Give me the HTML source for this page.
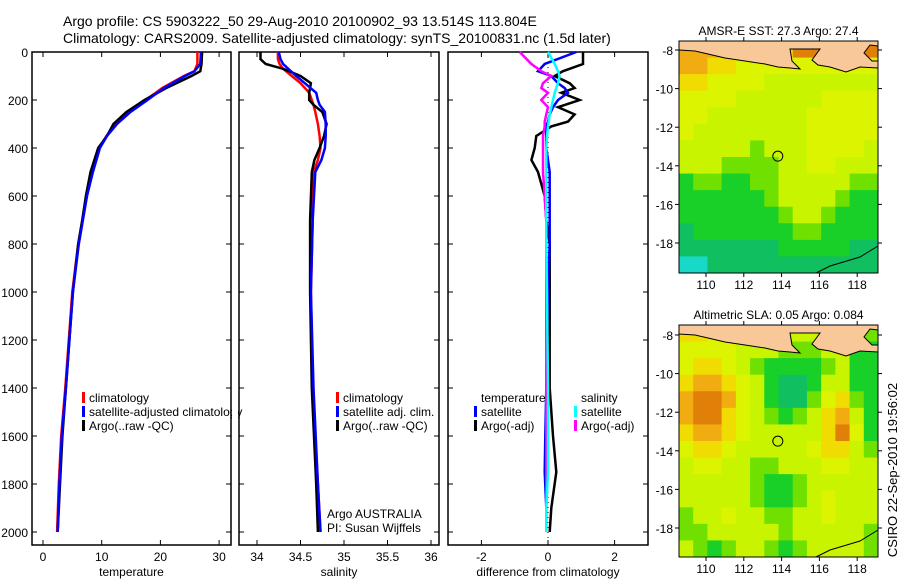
<!DOCTYPE html>
<html><head><meta charset="utf-8"><style>
body{margin:0;background:#fff;}
svg{display:block;font-family:"Liberation Sans",sans-serif;}
</style></head><body>
<svg id="c" width="900" height="580" viewBox="0 0 900 580">
<text x="63" y="26" font-size="14">Argo profile: CS 5903222_50 29-Aug-2010 20100902_93 13.514S 113.804E</text>
<text x="63" y="43" font-size="14">Climatology: CARS2009. Satellite-adjusted climatology: synTS_20100831.nc (1.5d later)</text>
<g id="g"></g>
<text transform="translate(897,470) rotate(-90)" text-anchor="middle" font-size="13">CSIRO 22-Sep-2010 19:56:02</text>
</svg>
<script>
// ---- data ----
const tDepth=[0,50,80,100,150,200,250,300,350,400,500,600,700,800,1000,1200,1400,1600,1800,2000];
const tClim=[26.3,26.3,25.8,24.0,20.3,17.5,14.6,12.4,10.8,9.6,8.4,7.4,6.7,6.0,5.0,4.4,3.8,3.1,2.7,2.4];
const tSat=[26.9,26.8,25.8,24.2,20.6,17.8,14.9,12.6,10.9,9.7,8.5,7.5,6.8,6.1,5.1,4.5,3.9,3.2,2.8,2.5];
const tArgo=[27.1,27.0,26.8,25.3,21.0,17.3,14.2,12.0,10.9,9.4,8.1,7.3,6.7,6.0,5.1,4.5,3.9,3.3,2.9,2.5];
const sDepth=[0,30,50,70,100,130,170,200,220,250,300,350,400,450,500,700,1000,1400,1800,2000];
const sClim=[34.24,34.24,34.26,34.3,34.4,34.5,34.6,34.63,34.65,34.67,34.7,34.72,34.73,34.7,34.65,34.64,34.62,34.64,34.7,34.73];
const sSat=[34.25,34.27,34.3,34.36,34.45,34.55,34.68,34.7,34.72,34.78,34.79,34.79,34.78,34.74,34.67,34.64,34.62,34.65,34.7,34.73];
const sArgo=[34.04,34.04,34.1,34.3,34.5,34.62,34.6,34.6,34.65,34.75,34.8,34.77,34.72,34.66,34.63,34.61,34.61,34.63,34.68,34.7];
const dDepth=[0,50,80,100,130,150,170,200,230,260,290,310,350,400,450,500,600,700,800,1000,1400,1600,1750,1900,2000];
const dTempArgo=[1.05,1.05,0.45,0.2,0.65,0.8,0.4,0.95,0.3,0.8,0.6,0.1,-0.35,-0.4,-0.5,-0.3,-0.1,-0.05,0.05,0.05,0.05,0.15,0.25,0.1,0.05];
const dTempSat=[0.85,-0.1,-0.3,0.1,0.3,0.5,0.6,0.3,0.15,0.05,0,-0.05,-0.05,-0.05,0,0.05,0.05,0.05,0.05,0,-0.05,-0.08,-0.1,-0.05,-0.05];
const dSalSat=[0,0.2,0.3,0.35,0.3,0.25,0.2,0.15,0.1,0.05,0.02,0,-0.03,-0.05,-0.05,-0.05,-0.05,-0.05,-0.05,-0.03,0,0,0,-0.05,-0.05];
const dSalArgo=[-0.85,-0.5,-0.2,0.1,-0.15,-0.2,0,-0.2,0,-0.05,-0.1,-0.1,-0.15,-0.15,-0.15,-0.15,-0.1,-0.05,-0.05,-0.05,-0.05,-0.05,-0.05,-0.05,-0.05];
const depthTicks=[0,200,400,600,800,1000,1200,1400,1600,1800,2000];
const tTicks=[0,10,20,30];
const sTicks=[34,34.5,35,35.5,36];
const dTicks=[-2,0,2];
const lonTicks=[110,112,114,116,118];
const latTicks=[-8,-10,-12,-14,-16,-18];
const sstGrid=[
[7,7,7,6,6,6,6,6,8,8,9,8,8,8],
[7,7,6,6,5,5,5,5,5,5,5,5,5,5],
[6,6,5,5,5,5,4,4,4,4,4,4,4,4],
[5,5,5,5,4,4,4,4,4,4,5,5,5,5],
[5,5,4,4,4,4,4,4,4,5,5,5,5,5],
[5,4,4,4,4,4,4,4,4,5,5,5,5,5],
[4,4,4,4,4,3,4,4,4,5,5,5,5,4],
[4,4,4,3,3,3,3,4,4,5,5,4,4,4],
[2,3,3,2,2,3,3,4,4,4,4,4,3,3],
[2,2,2,2,2,2,3,4,4,4,4,3,2,2],
[2,2,2,2,2,2,2,3,4,4,3,2,2,2],
[1,2,2,2,2,2,2,2,3,3,2,2,2,2],
[1,1,1,1,1,1,1,2,2,2,2,2,1,1],
[0,0,1,1,1,1,1,1,1,1,1,1,1,1]];
const slaGrid=[
[6,6,5,5,4,4,4,4,4,4,4,4,3,3],
[5,5,5,5,4,4,4,3,3,3,4,4,2,2],
[5,6,6,5,4,3,2,2,2,2,3,4,2,2],
[6,7,7,6,5,4,2,1,1,2,4,4,2,2],
[7,8,8,7,5,4,2,1,1,3,5,6,3,2],
[7,8,8,6,5,4,3,2,3,4,6,7,4,2],
[6,7,7,6,5,4,4,4,4,4,6,8,5,2],
[5,6,6,5,4,4,4,4,4,5,6,6,4,3],
[4,5,5,4,4,3,3,4,4,4,5,5,4,4],
[4,4,4,4,4,3,2,2,3,4,4,4,4,4],
[4,4,4,4,4,3,2,2,3,4,5,4,4,4],
[3,4,4,5,4,4,3,3,4,4,5,4,4,4],
[3,3,4,4,4,4,4,3,4,4,4,4,4,3],
[4,3,2,3,4,4,3,2,3,4,4,4,4,3]];
const argoLon=113.8, argoLat=-13.5;
// ---- drawing ----
const NS='http://www.w3.org/2000/svg';
const G=document.getElementById('g');
function mk(t,a,p){const e=document.createElementNS(NS,t);for(const k in a)e.setAttribute(k,a[k]);(p||G).appendChild(e);return e;}
const yD=d=>52+d*0.24;
const xT=v=>43+v*5.87, xS=v=>257+(v-34)*87, xDf=v=>548+v*33.3;
function panel(x0,x1,name,xf,ticks,title,showY){
  const f=mk('rect',{x:x0,y:52,width:x1-x0,height:493,fill:'none',stroke:'#000','stroke-width':1.5});
  
  
  depthTicks.forEach(d=>{mk('line',{x1:x0,x2:x0+5,y1:yD(d),y2:yD(d),stroke:'#000'});mk('line',{x1:x1-5,x2:x1,y1:yD(d),y2:yD(d),stroke:'#000'});
    if(showY){const t=mk('text',{x:28,y:yD(d)+5,'text-anchor':'end','font-size':12});t.textContent=d;
      
      }});
  ticks.forEach(v=>{const x=xf(v);mk('line',{x1:x,x2:x,y1:545,y2:540,stroke:'#000'});mk('line',{x1:x,x2:x,y1:52,y2:57,stroke:'#000'});
    const t=mk('text',{x:x,y:561,'text-anchor':'middle','font-size':12});t.textContent=v;
    
    });
  const tt=mk('text',{x:(x0+x1)/2,y:576,'text-anchor':'middle','font-size':12});tt.textContent=title;
  
  
}
function line(depths,vals,xf,col,name){
  let p='';for(let i=0;i<depths.length;i++)p+=xf(vals[i]).toFixed(1)+','+yD(depths[i]).toFixed(1)+' ';
  const e=mk('polyline',{points:p,fill:'none',stroke:col,'stroke-width':2.5});
  
  
}
function legend(x,y,col,txt,name){
  if(col)mk('rect',{x:x,y:y-10,width:3,height:11,fill:col});
  const t=mk('text',{x:x+7,y:y,'font-size':12});t.textContent=txt;
  
  
}
panel(32,231,'temperature-panel',xT,tTicks,'temperature',true);
line(tDepth,tClim,xT,'#f00','temp-climatology-line');
line(tDepth,tArgo,xT,'#000','temp-argo-line');
line(tDepth,tSat,xT,'#00f','temp-satellite-line');
legend(82,402,'#f00','climatology','legend-climatology');
legend(82,416,'#00f','satellite-adjusted climatology','legend-satellite');
legend(82,430,'#000','Argo(..raw -QC)','legend-argo');
mk('rect',{x:232,y:380,width:6,height:60,fill:'#fff'});
panel(239,439,'salinity-panel',xS,sTicks,'salinity',false);
line(sDepth,sClim,xS,'#f00','sal-climatology-line');
line(sDepth,sArgo,xS,'#000','sal-argo-line');
line(sDepth,sSat,xS,'#00f','sal-satellite-line');
legend(336,402,'#f00','climatology','legend-sal-climatology');
legend(336,416,'#00f','satellite adj. clim.','legend-sal-satellite');
legend(336,430,'#000','Argo(..raw -QC)','legend-sal-argo');
legend(320,518,null,'Argo AUSTRALIA','argo-australia-label');
legend(320,532,null,'PI: Susan Wijffels','pi-label');
panel(448,648,'difference-panel',xDf,dTicks,'difference from climatology',false);
mk('line',{x1:xDf(0),x2:xDf(0),y1:52,y2:545,stroke:'#000','stroke-dasharray':'1,4'});
line(dDepth,dTempArgo,xDf,'#000','diff-temp-argo-line');
line(dDepth,dTempSat,xDf,'#00f','diff-temp-satellite-line');
line(dDepth,dSalArgo,xDf,'#f0f','diff-sal-argo-line');
line(dDepth,dSalSat,xDf,'#0ff','diff-sal-satellite-line');
legend(474,402,null,'temperature','legend-temp-header');
legend(474,416,'#00f','satellite','legend-diff-temp-sat');
legend(474,430,'#000','Argo(-adj)','legend-diff-temp-argo');
legend(574,402,null,'salinity','legend-sal-header');
legend(574,416,'#0ff','satellite','legend-diff-sal-sat');
legend(574,430,'#f0f','Argo(-adj)','legend-diff-sal-argo');
// maps
const pal=['#18d8c8','#10c060','#18d028','#70e000','#c8f400','#dcf400','#f0dc00','#f0ac10','#e08008','#c02010'];
function map(top,bot,lat8y,grid,title,name){
  const x0=679,x1=878,lonX=l=>706+(l-110)*18.9,latY=l=>lat8y+(-8-l)*19.3;
  const rows=grid.length,cols=grid[0].length,cw=(x1-x0)/cols,ch=(bot-top)/rows;
  grid.forEach((r,i)=>r.forEach((v,j)=>{mk('rect',{x:x0+j*cw,y:top+i*ch,width:cw+0.5,height:ch+0.5,fill:pal[v]});}));
  const land=mk('path',{d:`M${x0},${top} L${x1},${top} L${x1},${top+5} L870,${top+4} L864,${top+12} L872,${top+20} L${x1},${top+20} L${x1},${top+27} L860,${top+26} L846,${top+31} L830,${top+26} L818,${top+24} L812,${top+19} L820,${top+8} L790,${top+8} L792,${top+20} L800,${top+28} L790,${top+27} L778,${top+26} L765,${top+23} L745,${top+20} L725,${top+17} L708,${top+13} L695,${top+10} L${x0},${top+9} Z`,fill:'#f8c898',stroke:'#000','stroke-width':1});
  
  
  mk('path',{d:`M816,${bot} L830,${bot-7} L860,${bot-16} L${x1},${bot-27}`,fill:'none',stroke:'#000'});
  const fr=mk('rect',{x:x0,y:top,width:x1-x0,height:bot-top,fill:'none',stroke:'#000','stroke-width':1});
  
  
  const c=mk('circle',{cx:lonX(argoLon),cy:latY(argoLat),r:5,fill:'none',stroke:'#000'});
  
  
  lonTicks.forEach(l=>{const x=lonX(l);mk('line',{x1:x,x2:x,y1:bot,y2:bot+4,stroke:'#000'});mk('line',{x1:x,x2:x,y1:top,y2:top-4,stroke:'#000'});
    const t=mk('text',{x:x,y:bot+16,'text-anchor':'middle','font-size':12});t.textContent=l;
    
    });
  latTicks.forEach(l=>{const y=latY(l);mk('line',{x1:x0,x2:x0-4,y1:y,y2:y,stroke:'#000'});mk('line',{x1:x1,x2:x1+4,y1:y,y2:y,stroke:'#000'});
    const t=mk('text',{x:673,y:y+5,'text-anchor':'end','font-size':12});t.textContent=l;
    
    });
  const tt=mk('text',{x:(x0+x1)/2,y:top-6,'text-anchor':'middle','font-size':12});tt.textContent=title;
  
  
}
map(41,273,50,sstGrid,'AMSR-E SST: 27.3 Argo: 27.4','sst-map');
map(325,557,335,slaGrid,'Altimetric SLA: 0.05 Argo: 0.084','sla-map');
</script>
</body></html>
